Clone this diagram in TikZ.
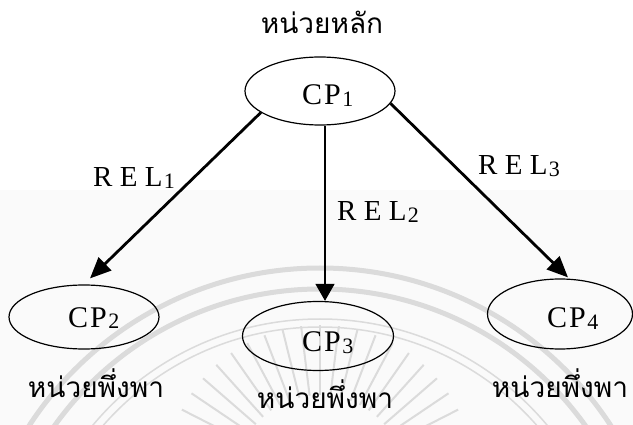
\documentclass[tikz,border=0pt]{standalone}
\usepackage{fontspec}
\setmainfont{Liberation Serif}
\newfontfamily\thaifont[Script=Thai]{Loma}
\usetikzlibrary{arrows.meta,shapes.geometric}
% small index digit set just below the baseline
\newcommand\cpnum[1]{\kern1.5pt\raisebox{-1.5pt}{\fontsize{22}{22}\selectfont #1}}
\newcommand\cpname[1]{C\kern2pt P\cpnum{#1}}

\begin{document}
\begin{tikzpicture}[x=1pt,y=-1pt,
  unitbox/.style={draw,ellipse,line width=1.2pt,inner sep=0pt},
  cptext/.style={anchor=base west,inner sep=0pt,font=\fontsize{30}{30}\selectfont},
  reltext/.style={anchor=base west,inner sep=0pt,font=\fontsize{29}{29}\selectfont},
  thaitext/.style={anchor=base,inner sep=0pt,font=\thaifont\fontsize{28}{28}\selectfont},
  heavylink/.style={line width=2.8pt,-{Triangle[length=21pt,width=18pt]}},
  lightlink/.style={line width=1.3pt,-{Triangle[length=17pt,width=19pt]}},
  seal/.style={draw=black!14}
]
\useasboundingbox (0,0) rectangle (633,425);

% paper tone of the lower half
\fill[black!2] (0,190) rectangle (633,425);

% faint seal in the background
\begin{scope}
  \clip (0,190) rectangle (633,425);
  \draw[seal,line width=5pt] (320,615) circle[radius=347];
  \draw[seal,line width=5pt] (320,615) circle[radius=326];
  \draw[seal,line width=1.5pt] (320,615) circle[radius=296];
  \draw[seal,line width=1.5pt] (320,615) circle[radius=288];
  \foreach \a in {200,207,...,340}
    \draw[seal,line width=2pt] (320,480) ++(\a:85) -- ++(\a:70);
\end{scope}

% units
\node[unitbox,minimum width=150pt,minimum height=68pt] (cp1) at (320,91) {};
\node[unitbox,minimum width=150pt,minimum height=64pt] (cp2) at (84,317) {};
\node[unitbox,minimum width=151pt,minimum height=69pt] (cp3) at (318,336) {};
\node[unitbox,minimum width=145pt,minimum height=70pt] (cp4) at (560,314) {};

\node[cptext] (t1) at (302,105) {\cpname{1}};
\node[cptext] (t2) at (68,327) {\cpname{2}};
\node[cptext] (t3) at (302,352) {\cpname{3}};
\node[cptext] (t4) at (547,328) {\cpname{4}};

% captions
\node[thaitext] (main) at (322,34) {หน่วยหลัก};
\node[thaitext] (dep2) at (96,398) {หน่วยพึ่งพา};
\node[thaitext] (dep3) at (325,409) {หน่วยพึ่งพา};
\node[thaitext] (dep4) at (560,397) {หน่วยพึ่งพา};

% relations
\draw[heavylink] (cp1.200) -- ([xshift=6pt,yshift=6pt]cp2.north);
\draw[lightlink] ([xshift=5pt]cp1.south) -- ([xshift=7pt]cp3.north);
\draw[heavylink] (cp1.-10) -- ([xshift=8pt,yshift=1pt]cp4.north);

\node[reltext] (r1) at (93,187) {R E L\cpnum{1}};
\node[reltext] (r2) at (337,221) {R E L\cpnum{2}};
\node[reltext] (r3) at (478,175) {R E L\cpnum{3}};
\end{tikzpicture}
\end{document}
